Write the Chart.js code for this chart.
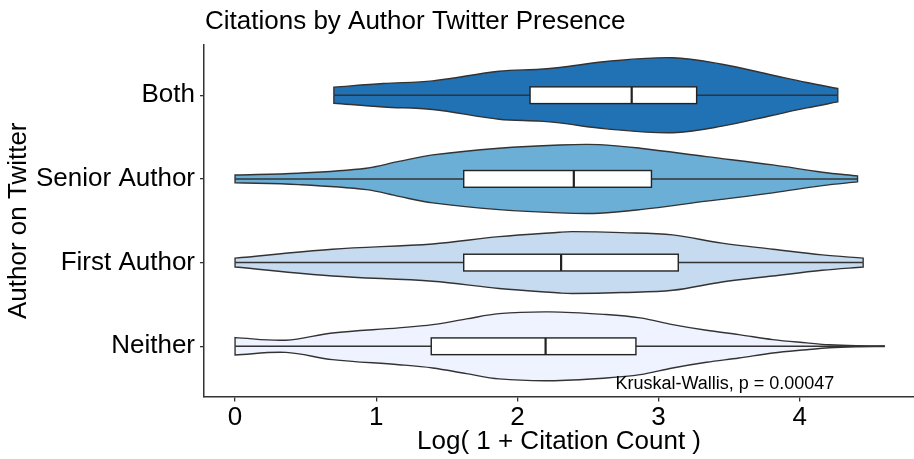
<!DOCTYPE html>
<html>
<head>
<meta charset="utf-8">
<script src="https://cdn.jsdelivr.net/npm/chart.js@4.4.1/dist/chart.umd.min.js"></script>
<style>
  html, body { margin: 0; padding: 0; background: #fff; }
  #wrap { width: 914px; height: 459px; }
</style>
</head>
<body>
<div id="wrap"><canvas id="chart" width="914" height="459"></canvas></div>
<script>
// groups, bottom to top (y = 1..4)
const groups = ['Neither', 'First Author', 'Senior Author', 'Both'];
const fills = ['#eff3ff', '#c6dbef', '#6baed6', '#2171b5'];
const xTicks = [0, 1, 2, 3, 4];

// violin outlines: x position and half width (category units)
const neitherX = [0, 0.36, 0.69, 1.16, 1.40, 1.64, 1.87, 2.23, 2.63, 2.87, 3.10, 3.34, 3.57, 3.81, 4.05, 4.21, 4.40, 4.60];
const neitherW = [0.104, 0.073, 0.159, 0.220, 0.259, 0.327, 0.390, 0.411, 0.379, 0.339, 0.259, 0.191, 0.140, 0.080, 0.041, 0.018, 0.006, 0.003];
const firstX = [0, 0.69, 1.40, 1.87, 2.30, 2.39, 2.74, 3.10, 3.45, 3.81, 4.16, 4.45];
const firstW = [0.053, 0.160, 0.223, 0.310, 0.363, 0.370, 0.358, 0.331, 0.232, 0.160, 0.092, 0.053];
const seniorX = [0, 0.45, 0.93, 1.16, 1.40, 1.87, 2.30, 2.58, 2.87, 3.34, 3.81, 4.16, 4.41];
const seniorW = [0.046, 0.068, 0.128, 0.209, 0.287, 0.367, 0.406, 0.410, 0.367, 0.266, 0.167, 0.080, 0.036];
const bothX = [0.70, 1.05, 1.40, 1.87, 2.16, 2.30, 2.63, 3.10, 3.45, 3.81, 4.05, 4.27];
const bothW = [0.096, 0.140, 0.171, 0.287, 0.310, 0.331, 0.402, 0.448, 0.370, 0.239, 0.152, 0.080];

const violinX = [neitherX, firstX, seniorX, bothX];
const violinW = [neitherW, firstW, seniorW, bothW];

// box plots
const q1 = [1.39, 1.62, 1.62, 2.09];
const median = [2.20, 2.31, 2.40, 2.81];
const q3 = [2.84, 3.14, 2.95, 3.27];
const whiskerLo = [0, 0, 0, 0.70];
const whiskerHi = [4.60, 4.45, 4.41, 4.27];

const FONT = 'Liberation Sans, Arial, sans-serif';
const OUTLINE = '#333333';

const datasets = [];

// whisker lines on top of the violins
groups.forEach((g, i) => {
  datasets.push({
    label: g + ' whisker',
    data: [{ x: whiskerLo[i], y: i + 1 }, { x: whiskerHi[i], y: i + 1 }],
    borderColor: OUTLINE,
    borderWidth: 1.5,
    pointRadius: 0,
    fill: false,
    order: 0,
  });
});

// each violin = upper half + lower half, both filled to the centre line
groups.forEach((g, i) => {
  const c = i + 1;
  const xs = violinX[i];
  const ws = violinW[i];
  const n = xs.length - 1;
  [1, -1].forEach((side) => {
    const pts = xs.map((x, k) => ({ x: x, y: c + side * ws[k] }));
    // flat end caps: repeat the end points so the curve does not bulge there
    pts.unshift({ x: xs[0], y: c }, { x: xs[0], y: c + side * ws[0] });
    pts.push({ x: xs[n], y: c + side * ws[n] }, { x: xs[n], y: c });
    datasets.push({
      label: g,
      data: pts,
      borderColor: OUTLINE,
      borderWidth: 1.4,
      backgroundColor: fills[i],
      pointRadius: 0,
      tension: 0.35,
      fill: { value: c },
      order: 1,
    });
  });
});

const boxPlugin = {
  id: 'boxes',
  afterDatasetsDraw(chart) {
    const { ctx, scales: { x, y } } = chart;
    ctx.save();
    groups.forEach((g, i) => {
      const c = i + 1;
      const left = x.getPixelForValue(q1[i]);
      const right = x.getPixelForValue(q3[i]);
      const top = y.getPixelForValue(c + 0.1);
      const bottom = y.getPixelForValue(c - 0.1);
      ctx.fillStyle = '#ffffff';
      ctx.fillRect(left, top, right - left, bottom - top);
      ctx.strokeStyle = '#222222';
      ctx.lineWidth = 1.4;
      ctx.strokeRect(left, top, right - left, bottom - top);
      const m = x.getPixelForValue(median[i]);
      ctx.lineWidth = 2.2;
      ctx.beginPath();
      ctx.moveTo(m, top);
      ctx.lineTo(m, bottom);
      ctx.stroke();
    });
    ctx.restore();
  },
  afterDraw(chart) {
    const { ctx, chartArea, scales: { x, y } } = chart;
    ctx.save();
    ctx.fillStyle = '#000';
    ctx.font = '26px ' + FONT;
    ctx.textAlign = 'left';
    ctx.textBaseline = 'middle';
    ctx.fillText('Citations by Author Twitter Presence', chartArea.left + 1, 22);
    ctx.font = '18px ' + FONT;
    ctx.textAlign = 'center';
    ctx.fillText('Kruskal-Wallis, p = 0.00047', x.getPixelForValue(3.47), y.getPixelForValue(0.55));
    ctx.restore();
  },
};

new Chart(document.getElementById('chart').getContext('2d'), {
  type: 'scatter',
  data: { datasets: datasets },
  plugins: [boxPlugin],
  options: {
    responsive: false,
    animation: false,
    devicePixelRatio: 1,
    showLine: true,
    layout: { padding: { top: 45, right: 0, left: 0, bottom: 0 } },
    plugins: {
      legend: { display: false },
      tooltip: { enabled: false },
      title: { display: false },
    },
    scales: {
      x: {
        type: 'linear',
        min: -0.22,
        max: 4.81,
        afterBuildTicks: (s) => { s.ticks = xTicks.map((v) => ({ value: v })); },
        afterFit: (s) => { s.height = 62.5; },
        grid: { display: true, drawOnChartArea: false, drawTicks: true, tickLength: 5, color: OUTLINE, lineWidth: 1.3 },
        border: { display: true, color: OUTLINE, width: 1.5 },
        ticks: { color: '#000', font: { family: FONT, size: 26 }, padding: 1, maxRotation: 0 },
        title: { display: true, text: 'Log( 1 + Citation Count )', color: '#000', font: { family: FONT, size: 26 }, padding: { top: 0, bottom: 2 } },
      },
      y: {
        type: 'linear',
        min: 0.4,
        max: 4.6,
        afterBuildTicks: (s) => { s.ticks = groups.map((g, i) => ({ value: i + 1 })); },
        afterFit: (s) => { s.width = 204; },
        grid: { display: true, drawOnChartArea: false, drawTicks: true, tickLength: 4, color: OUTLINE, lineWidth: 1.3 },
        border: { display: true, color: OUTLINE, width: 1.5 },
        ticks: {
          color: '#000',
          font: { family: FONT, size: 26 },
          padding: 5,
          callback: (v) => groups[v - 1],
        },
        title: { display: true, text: 'Author on Twitter', color: '#000', font: { family: FONT, size: 26 }, padding: { top: 3, bottom: 0 } },
      },
    },
  },
});
</script>
</body>
</html>
